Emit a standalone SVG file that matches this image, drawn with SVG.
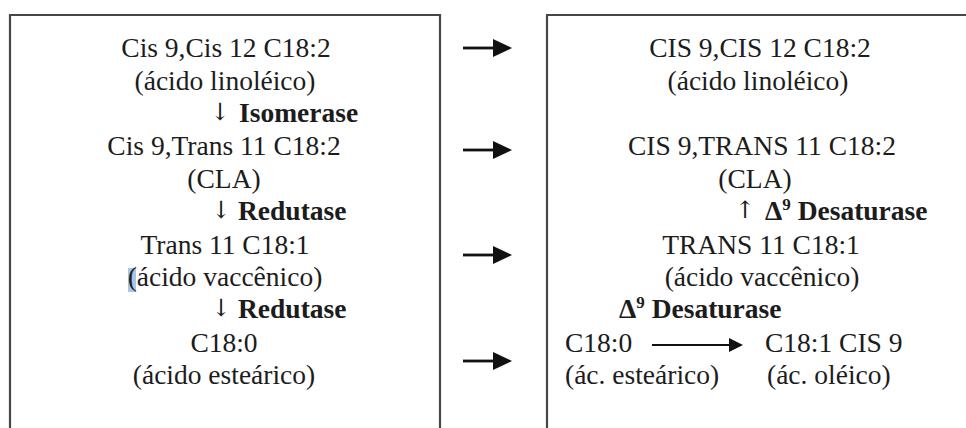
<svg xmlns="http://www.w3.org/2000/svg" width="966" height="428" viewBox="0 0 966 428" font-family="'Liberation Serif', 'Times New Roman', Times, serif">
<style>
text{font-family:'Liberation Serif','Times New Roman',Times,serif}
.t{font-size:27.5px;fill:#1c1c1c}
.c{text-anchor:middle}
.b{font-weight:bold}
.sup{font-size:17px}
text.ar{font-family:'DejaVu Serif','DejaVu Sans',serif;font-size:24px;text-anchor:middle}
.box{fill:none;stroke:#474747;stroke-width:2.2}
.arr{stroke:#111;stroke-width:2.8;fill:none}
.thin{stroke:#111;stroke-width:2;fill:none}
.head{fill:#111}
</style>
<rect width="966" height="428" fill="#fff"/>
<g id="box-left"><path class="box" d="M10,440 V15 H440 V440"/></g>
<g id="box-right"><path class="box" d="M547,440 V15 H972"/></g>
<rect x="128" y="268" width="8" height="24" fill="#a9c6e6"/>

<g id="left-linoleic" class="t c"><text x="226" y="57">Cis 9,Cis 12 C18:2</text><text x="225" y="90">(ácido linoléico)</text></g>
<g id="left-isomerase" class="t"><text class="ar" x="220" y="120">↓</text><text class="b" x="239" y="122">Isomerase</text></g>
<g id="left-cla" class="t c"><text x="224" y="155">Cis 9,Trans 11 C18:2</text><text x="224" y="188">(CLA)</text></g>
<g id="left-redutase1" class="t"><text class="ar" x="221" y="218">↓</text><text class="b" x="238" y="220">Redutase</text></g>
<g id="left-vaccenic" class="t c"><text x="225" y="254">Trans 11 C18:1</text><text x="225" y="286">(ácido vaccênico)</text></g>
<g id="left-redutase2" class="t"><text class="ar" x="221" y="316">↓</text><text class="b" x="238" y="318">Redutase</text></g>
<g id="left-stearic" class="t c"><text x="224" y="352">C18:0</text><text x="224" y="384">(ácido esteárico)</text></g>

<g id="right-linoleic" class="t c"><text x="760" y="57">CIS 9,CIS 12 C18:2</text><text x="758" y="90">(ácido linoléico)</text></g>
<g id="right-cla" class="t c"><text x="762" y="155">CIS 9,TRANS 11 C18:2</text><text x="755" y="188">(CLA)</text></g>
<g id="right-desaturase1" class="t"><text class="ar" x="745" y="218">↑</text><text class="b" x="765" y="220">Δ<tspan class="sup" dy="-10">9</tspan><tspan dy="10"> Desaturase</tspan></text></g>
<g id="right-vaccenic" class="t c"><text x="761" y="254">TRANS 11 C18:1</text><text x="762" y="286">(ácido vaccênico)</text></g>
<g id="right-desaturase2" class="t"><text class="b" x="619" y="318">Δ<tspan class="sup" dy="-10">9</tspan><tspan dy="10"> Desaturase</tspan></text></g>
<g id="right-stearic" class="t"><text x="565" y="352">C18:0</text><text x="565" y="384">(ác. esteárico)</text></g>
<g id="right-oleic" class="t"><text x="765" y="352">C18:1 CIS 9</text><text x="767" y="384">(ác. oléico)</text></g>

<g id="connectors">
<g><line class="arr" x1="463" y1="48" x2="494" y2="48"/><polygon class="head" points="493,39 512,48 493,57"/></g>
<g><line class="arr" x1="463" y1="150" x2="494" y2="150"/><polygon class="head" points="493,141 512,150 493,159"/></g>
<g><line class="arr" x1="463" y1="255" x2="494" y2="255"/><polygon class="head" points="493,246 512,255 493,264"/></g>
<g><line class="arr" x1="463" y1="361" x2="494" y2="361"/><polygon class="head" points="493,352 512,361 493,370"/></g>
<g><line class="thin" x1="652" y1="345" x2="731" y2="345"/><polygon class="head" points="729,338 743,345 729,352"/></g>
</g>
</svg>
